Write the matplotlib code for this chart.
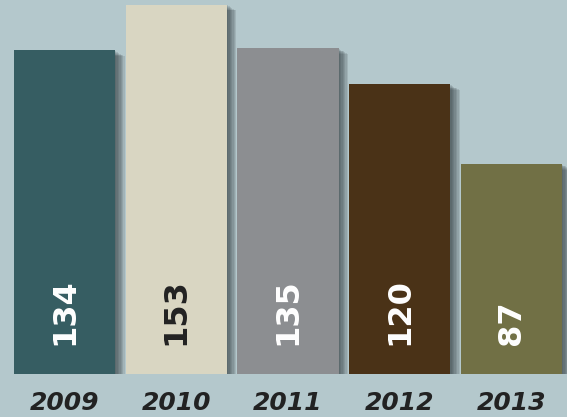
import matplotlib
matplotlib.use("Agg")
import matplotlib.pyplot as plt
import matplotlib.patheffects as pe

years = ["2009", "2010", "2011", "2012", "2013"]
values = [134, 153, 135, 120, 87]
colors = ["#365d62", "#d9d6c2", "#8c8e91", "#4a3217", "#717045"]
label_colors = ["white", "#222222", "white", "white", "white"]

bg = "#b4c8cc"

fig = plt.figure(figsize=(5.67, 4.17), dpi=100)
fig.patch.set_facecolor(bg)
ax = fig.add_axes([8.6 / 567, 43 / 417, 558.8 / 567, 374 / 417])
ax.set_facecolor(bg)

# soft drop shadow made of stacked offset shadows
shadow = [pe.SimplePatchShadow(offset=(d, -d * 0.6), shadow_rgbFace="#2a3538", alpha=0.13)
          for d in range(1, 8)]
shadow.append(pe.Normal())

x = list(range(len(years)))
bars = ax.bar(x, values, width=0.904, color=colors, zorder=2)
for b in bars:
    b.set_path_effects(shadow)

for i, v in enumerate(values):
    ax.text(i, 12, str(v), rotation=90, ha="center", va="bottom",
            color=label_colors[i], fontsize=23, fontweight="bold",
            family="DejaVu Sans", zorder=3)

ax.set_xlim(-0.5, 4.5)
ax.set_ylim(0, 154.9)
ax.set_xticks(x)
ax.set_xticklabels(years, fontsize=18, fontweight="bold", fontstyle="italic",
                   color="#222222")
ax.tick_params(axis="x", length=0, pad=12)
ax.set_yticks([])
for s in ax.spines.values():
    s.set_visible(False)

fig.savefig("out.png", dpi=100, facecolor=fig.get_facecolor())
